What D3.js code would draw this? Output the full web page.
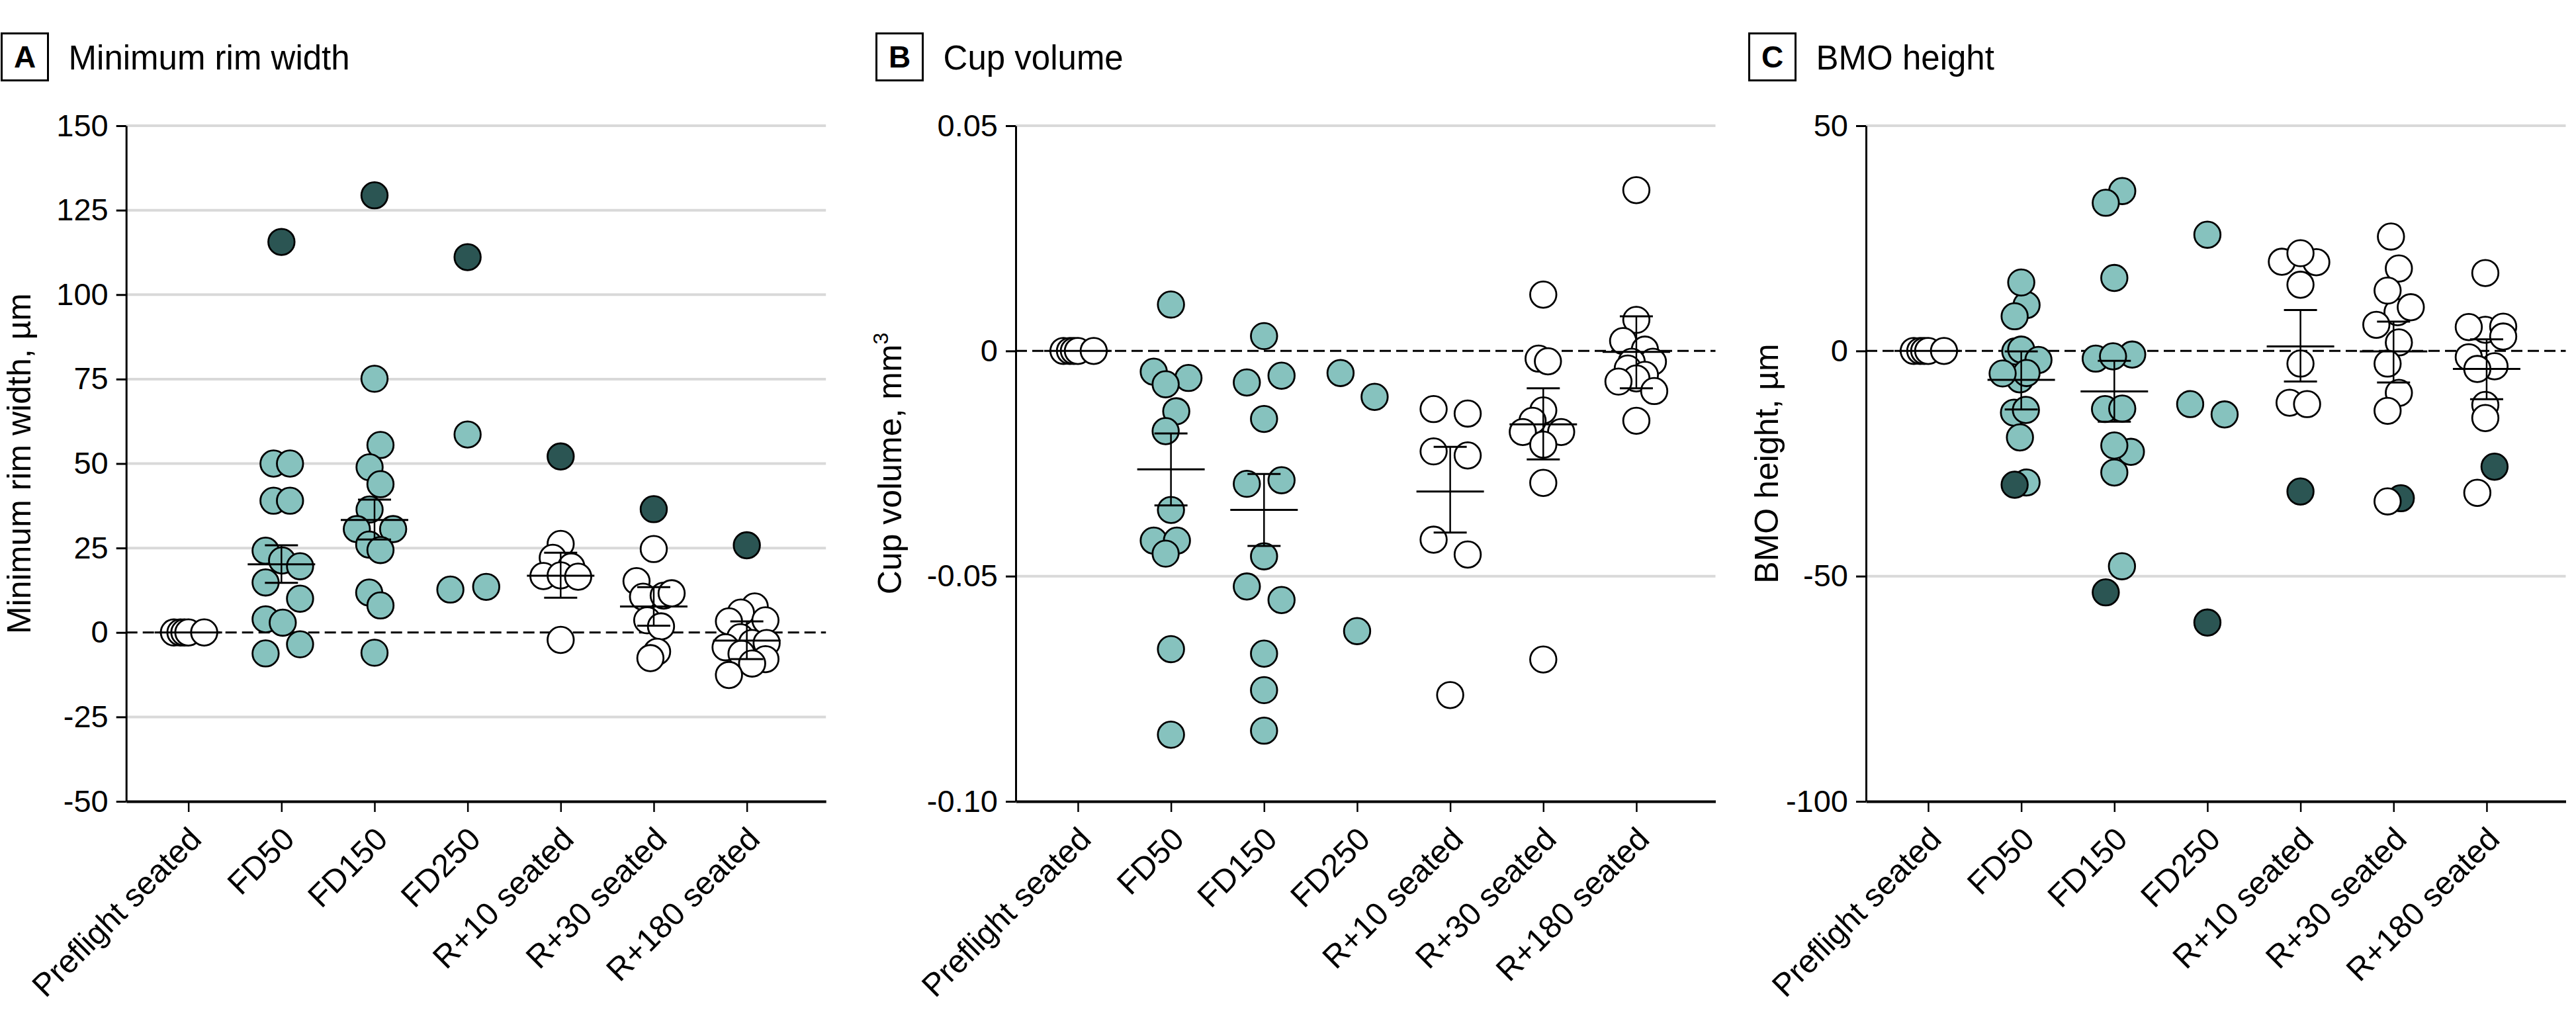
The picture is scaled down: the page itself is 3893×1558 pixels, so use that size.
<!DOCTYPE html>
<html><head><meta charset="utf-8">
<script src="https://cdn.jsdelivr.net/npm/d3@7"></script>
<style>
html,body{margin:0;padding:0;background:#fff;}
svg{display:block;font-family:"Liberation Sans",Arial,sans-serif;}
</style></head><body>
<svg id="chart" width="3893" height="1558"></svg>
<script>
// ---------- DATA ----------
const categories = ["Preflight seated","FD50","FD150","FD250","R+10 seated","R+30 seated","R+180 seated"];
const groupKind = ["open","fd","fd","fd","open","open","open"];

// Panel A: Minimum rim width (µm)
const rimTicks = [150,125,100,75,50,25,0,-25,-50];
const rimTickLabels = ["150","125","100","75","50","25","0","-25","-50"];
const rimValues = [
  [0,0,0,0,0],
  [50.0,50.0,39.0,39.0,24.2,21.3,19.6,14.8,10.0,3.9,2.9,-3.5,-6.2,115.6],
  [129.4,75.1,55.5,48.9,43.9,36.4,30.6,30.6,26.0,24.4,11.8,8.0,-6.0],
  [111.1,58.6,12.7,13.5],
  [52.1,26.2,22.1,19.5,16.7,16.9,16.5,-2.2],
  [36.5,24.7,15.2,10.6,10.9,11.6,3.6,1.8,-5.7,-7.6],
  [25.8,7.7,5.9,3.6,3.3,-1.4,-3.1,-3.1,-4.4,-6.3,-7.9,-9.2,-12.6]
];
const rimJitter = [
  [-0.155,-0.085,-0.043,0,0.17],
  [-0.085,0.092,-0.085,0.092,-0.17,0.007,0.2,-0.17,0.2,-0.17,0.014,0.2,-0.17,0],
  [0,0,0.064,-0.053,0.064,-0.053,-0.19,0.2,-0.057,0.064,-0.057,0.064,0],
  [0,0,-0.185,0.2],
  [0,0,-0.085,0.114,-0.185,0,0.188,0],
  [0,0,-0.185,-0.115,0.107,0.192,-0.07,0.078,0.036,-0.036],
  [0,0.085,-0.064,0.2,-0.192,-0.07,0.057,0.213,-0.228,-0.057,0.2,0.057,-0.192]
];
const rimDark = [
  [0,0,0,0,0],
  [0,0,0,0,0,0,0,0,0,0,0,0,0,1],
  [1,0,0,0,0,0,0,0,0,0,0,0,0],
  [1,0,0,0],
  [1,0,0,0,0,0,0,0],
  [1,0,0,0,0,0,0,0,0,0],
  [1,0,0,0,0,0,0,0,0,0,0,0,0]
];
const rimMean  = [0, 20.2, 33.3, null, 16.8, 7.7, -2.4];
const rimUpper = [null, 25.8, 39.3, null, 23.6, 13.4, 3.3];
const rimLower = [null, 14.7, 27.5, null, 10.3, 2.0, -7.9];

// Panel B: Cup volume (mm3)
const cupTicks = [0.05,0,-0.05,-0.10];
const cupTickLabels = ["0.05","0","-0.05","-0.10"];
const cupValues = [
  [0,0,0,0,0],
  [0.0103,-0.0046,-0.0060,-0.0074,-0.0134,-0.0178,-0.0353,-0.0421,-0.0421,-0.0450,-0.0662,-0.0852],
  [0.0033,-0.0055,-0.0070,-0.0151,-0.0287,-0.0295,-0.0456,-0.0523,-0.0553,-0.0672,-0.0753,-0.0843],
  [-0.0049,-0.0102,-0.0622],
  [-0.0129,-0.0139,-0.0223,-0.0232,-0.0419,-0.0452,-0.0764],
  [0.0125,-0.0017,-0.0023,-0.0132,-0.0155,-0.0180,-0.0180,-0.0208,-0.0293,-0.0685],
  [0.0357,0.0069,0.0022,0.0003,-0.0024,-0.0024,-0.0039,-0.0053,-0.0061,-0.0068,-0.0089,-0.0155]
];
const cupJitter = [
  [-0.155,-0.085,-0.043,0,0.17],
  [0,-0.185,0.188,-0.057,0.057,-0.057,0,-0.185,0.064,-0.057,0,0],
  [0,0.188,-0.185,0,0.188,-0.185,0,-0.185,0.188,0,0,0],
  [-0.178,0.188,0],
  [-0.178,0.188,-0.178,0.188,-0.178,0.188,0],
  [0,-0.05,0.05,0,-0.115,-0.22,0.192,0,0,0],
  [0,0,-0.142,0.092,0.178,-0.05,-0.092,0.092,0,-0.192,0.192,0]
];
const cupDark = cupValues.map(g => g.map(() => 0));
const cupMean  = [0, -0.0263, -0.0353, null, -0.0312, -0.0163, -0.0002];
const cupUpper = [null, -0.0183, -0.0273, null, -0.0213, -0.0083, 0.0077];
const cupLower = [null, -0.0343, -0.0433, null, -0.0403, -0.0241, -0.0083];

// Panel C: BMO height (µm)
const bmoTicks = [50,0,-50,-100];
const bmoTickLabels = ["50","0","-50","-100"];
const bmoValues = [
  [0,0,0,0,0],
  [10.2,15.2,7.7,-6.3,-0.1,0.3,-2.0,-4.9,-5.0,-13.7,-13.1,-19.2,-29.2,-29.7],
  [35.5,32.9,16.2,-1.7,-0.8,-1.2,-12.9,-12.8,-22.4,-21.0,-27.0,-47.8,-53.6],
  [25.8,-11.8,-14.1,-60.3],
  [19.8,19.7,21.7,14.7,-2.8,-11.5,-11.8,-31.2],
  [25.4,18.3,8.6,13.4,9.7,5.8,1.9,-2.8,-9.3,-13.3,-32.7,-33.4],
  [17.3,4.7,5.3,5.4,3.2,-1.4,-3.4,-4.0,-12.0,-14.9,-31.5,-25.7]
];
const bmoJitter = [
  [-0.155,-0.085,-0.043,0,0.17],
  [0.057,0,-0.071,-0.014,-0.064,0,0.185,0.057,-0.2,-0.078,0.05,-0.014,0.057,-0.071],
  [0.085,-0.092,0,-0.2,0.192,-0.014,-0.1,0.085,0.178,0,0,0.082,-0.092],
  [0,-0.185,0.185,0],
  [-0.2,0.17,0,0,0,-0.117,0.071,0],
  [-0.028,0.057,0.043,-0.064,0.185,-0.185,0.057,-0.064,0.057,-0.064,0.078,-0.064],
  [-0.014,-0.014,-0.192,0.178,0.178,-0.192,0.085,-0.1,-0.014,-0.014,-0.1,0.085]
];
const bmoDark = [
  [0,0,0,0,0],
  [0,0,0,0,0,0,0,0,0,0,0,0,0,1],
  [0,0,0,0,0,0,0,0,0,0,0,0,1],
  [0,0,0,1],
  [0,0,0,0,0,0,0,1],
  [0,0,0,0,0,0,0,0,0,0,1,0],
  [0,0,0,0,0,0,0,0,0,0,0,1]
];
const bmoMean  = [0, -6.4, -9.0, null, 1.0, -0.1, -4.0];
const bmoUpper = [null, -0.1, -2.2, null, 9.1, 6.5, 2.6];
const bmoLower = [null, -13.0, -15.7, null, -6.8, -7.0, -10.7];

// ---------- LAYOUT / STYLE ----------
const COLORS = {open:"#ffffff", fd:"#86c2be", dark:"#2b5553", grid:"#d9d9d9"};
const TOP = 190, BOTTOM = 1211, PLOT_W = 1057.5;
const R = 19.8;

const panels = [
  {letter:"A", title:"Minimum rim width", yLabel:["Minimum rim width, µm"], domain:[-50,150],
   ticks:rimTicks, labels:rimTickLabels, values:rimValues, jitter:rimJitter, dark:rimDark,
   mean:rimMean, upper:rimUpper, lower:rimLower, origin:0, axisX:190.7, yTitleX:45.6},
  {letter:"B", title:"Cup volume", yLabel:["Cup volume, mm","3"], domain:[-0.10,0.05],
   ticks:cupTicks, labels:cupTickLabels, values:cupValues, jitter:cupJitter, dark:cupDark,
   mean:cupMean, upper:cupUpper, lower:cupLower, origin:1322, axisX:1535, yTitleX:1362},
  {letter:"C", title:"BMO height", yLabel:["BMO height, µm"], domain:[-100,50],
   ticks:bmoTicks, labels:bmoTickLabels, values:bmoValues, jitter:bmoJitter, dark:bmoDark,
   mean:bmoMean, upper:bmoUpper, lower:bmoLower, origin:2641, axisX:2820, yTitleX:2686.6}
];

const svg = d3.select("#chart");

panels.forEach(p => {
  const g = svg.append("g");
  const x = d3.scaleLinear().domain([-0.668, 6.85]).range([p.axisX, p.axisX + PLOT_W]);
  const y = d3.scaleLinear().domain(p.domain).range([BOTTOM, TOP]);

  // title
  g.append("rect").attr("x", p.origin + 2.5).attr("y", 50.5).attr("width", 70).attr("height", 71)
    .attr("fill", "none").attr("stroke", "#000").attr("stroke-width", 3);
  g.append("text").attr("x", p.origin + 37.5).attr("y", 102).attr("text-anchor", "middle")
    .attr("font-weight", "bold").attr("font-size", 46).text(p.letter);
  g.append("text").attr("x", p.origin + 103.6).attr("y", 105).attr("font-size", 51).text(p.title);

  // gridlines
  const gridVals = p.ticks.filter(t => t !== 0 && t !== p.domain[0]);
  g.selectAll(".grid").data(gridVals).join("line")
    .attr("x1", x.range()[0]).attr("x2", x.range()[1])
    .attr("y1", d => y(d)).attr("y2", d => y(d))
    .attr("stroke", COLORS.grid).attr("stroke-width", 4);

  // dashed zero line
  g.append("line").attr("x1", x.range()[0]).attr("x2", x.range()[1])
    .attr("y1", y(0)).attr("y2", y(0))
    .attr("stroke", "#000").attr("stroke-width", 3).attr("stroke-dasharray", "17,8");

  // y axis
  const ya = g.append("g").attr("transform", `translate(${p.axisX},0)`)
    .call(d3.axisLeft(y).tickValues(p.ticks).tickFormat((d,i) => p.labels[i]).tickSize(15).tickSizeOuter(0).tickPadding(12));
  ya.select(".domain").attr("stroke-width", 3);
  ya.selectAll(".tick line").attr("stroke-width", 3);
  ya.selectAll(".tick text").attr("font-size", 47).attr("font-family", '"Liberation Sans",Arial,sans-serif').attr("fill", "#000");

  // x axis
  const xa = g.append("g").attr("transform", `translate(0,${BOTTOM})`)
    .call(d3.axisBottom(x).tickValues(d3.range(categories.length)).tickFormat(i => categories[i]).tickSize(16).tickSizeOuter(0));
  xa.select(".domain").attr("stroke-width", 4);
  xa.selectAll(".tick line").attr("stroke-width", 2.5);
  xa.selectAll(".tick text").attr("font-size", 48.5).attr("font-family", '"Liberation Sans",Arial,sans-serif').attr("fill", "#000")
    .attr("text-anchor", "end").attr("y", 0).attr("dy", 0)
    .attr("transform", "translate(22,60) rotate(-45)");

  // y-axis title
  const yt = g.append("text").attr("transform", `translate(${p.yTitleX},${(TOP+BOTTOM)/2}) rotate(-90)`)
    .attr("text-anchor", "middle").attr("font-size", 50);
  yt.append("tspan").text(p.yLabel[0]);
  if (p.yLabel[1]) yt.append("tspan").attr("font-size", 32).attr("dy", -20).text(p.yLabel[1]);

  // points
  const pts = [];
  p.values.forEach((arr, ci) => arr.forEach((v, k) => {
    pts.push({ci, v, j: p.jitter[ci][k], dark: p.dark[ci][k]});
  }));
  g.selectAll(".pt").data(pts).join("circle")
    .attr("cx", d => x(d.ci + d.j)).attr("cy", d => y(d.v)).attr("r", R)
    .attr("fill", d => d.dark ? COLORS.dark : COLORS[groupKind[d.ci]])
    .attr("stroke", "#000").attr("stroke-width", 2.8);

  // mean and error bars
  p.mean.forEach((m, ci) => {
    if (m === null) return;
    const cx = x(ci);
    g.append("line").attr("x1", cx - 51).attr("x2", cx + 51).attr("y1", y(m)).attr("y2", y(m))
      .attr("stroke", "#000").attr("stroke-width", 3);
    if (p.upper[ci] !== null) {
      g.append("line").attr("x1", cx).attr("x2", cx).attr("y1", y(p.upper[ci])).attr("y2", y(p.lower[ci]))
        .attr("stroke", "#000").attr("stroke-width", 2.5);
      [p.upper[ci], p.lower[ci]].forEach(e => {
        g.append("line").attr("x1", cx - 25).attr("x2", cx + 25).attr("y1", y(e)).attr("y2", y(e))
          .attr("stroke", "#000").attr("stroke-width", 3);
      });
    }
  });
});
</script>
</body></html>
